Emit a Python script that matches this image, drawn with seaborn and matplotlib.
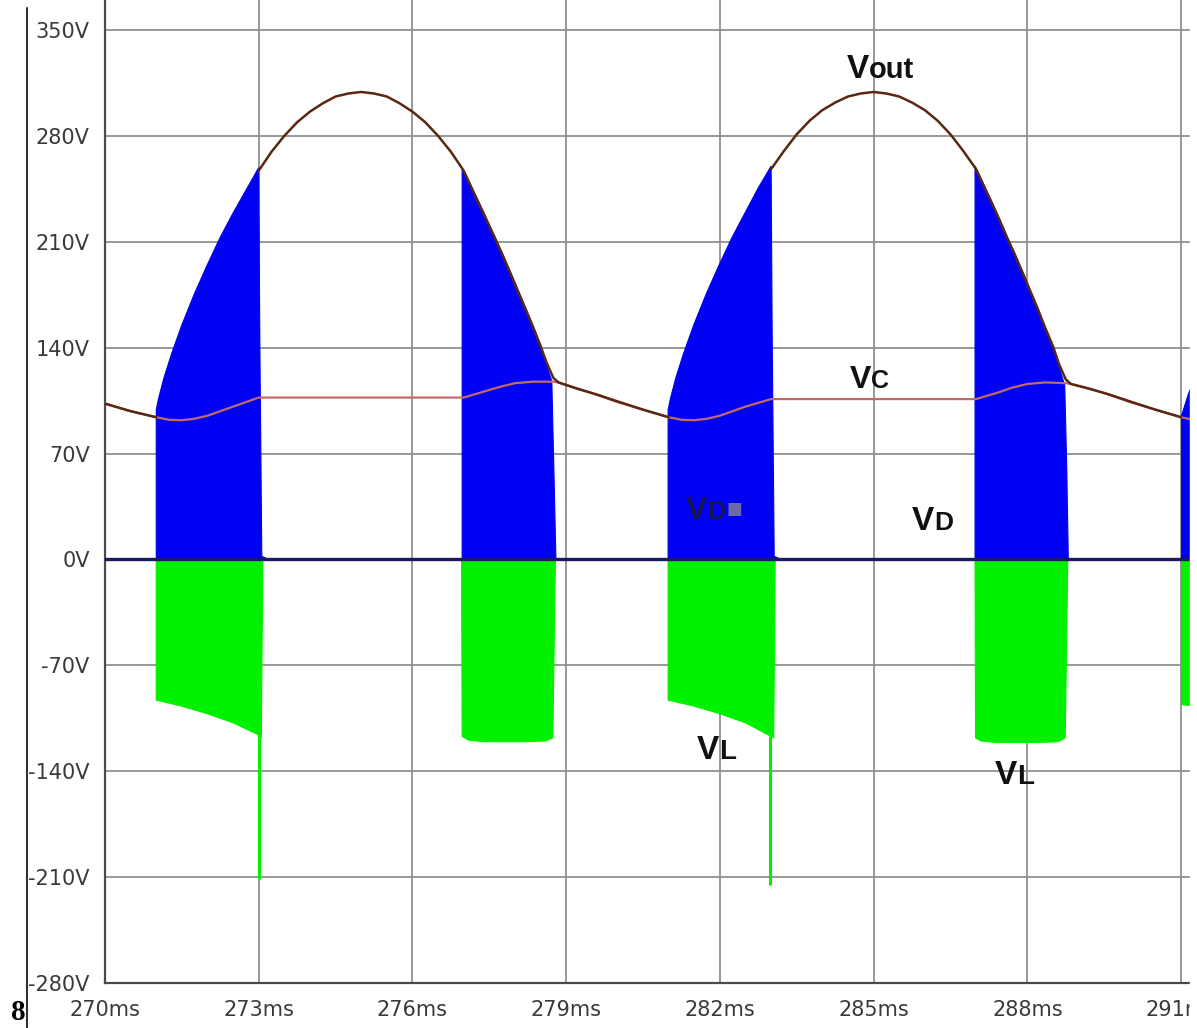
import matplotlib
matplotlib.use("Agg")
import matplotlib.pyplot as plt
from matplotlib.lines import Line2D
from matplotlib.patches import Rectangle
import seaborn as sns

# ---------------- data ----------------
x_ticks = [270, 273, 276, 279, 282, 285, 288, 291]
x_labels = [f"{v}ms" for v in x_ticks]
y_ticks = [-280, -210, -140, -70, 0, 70, 140, 210, 280, 350]
y_labels = [f"{v}V" for v in y_ticks]

# Vout (visible parts of the brown curve)
vout_t1 = [270.0, 270.5, 271.0]
vout_v1 = [103, 98, 94]
vout_t2 = [273.0, 273.25, 273.5, 273.75, 274.0, 274.25, 274.5, 274.75, 275.0,
           275.25, 275.5, 275.75, 276.0, 276.25, 276.5, 276.75, 277.0,
           277.15, 277.3, 277.45, 277.6, 277.75, 277.9, 278.05, 278.2, 278.35,
           278.5, 278.62, 278.75, 278.85, 279.2, 279.6, 280.0, 280.5, 281.0]
vout_v2 = [257, 269.5, 280, 289, 296, 301.5, 306, 308, 309,
           308, 306, 301.5, 296, 289, 280, 269.5, 257,
           246, 235, 224, 213, 202, 190, 178, 166, 154,
           141, 130, 120, 117, 113, 109, 104.5, 99, 94]
vout_t3 = [283.0, 283.25, 283.5, 283.75, 284.0, 284.25, 284.5, 284.75, 285.0,
           285.25, 285.5, 285.75, 286.0, 286.25, 286.5, 286.75, 287.0,
           287.15, 287.3, 287.45, 287.6, 287.75, 287.9, 288.05, 288.2, 288.35,
           288.5, 288.62, 288.75, 288.85, 289.2, 289.6, 290.0, 290.5, 291.0]
vout_v3 = [258, 270, 281, 290, 297, 302, 306, 308, 309,
           308, 306, 302, 297, 290, 281, 270, 258,
           247, 236, 225, 213, 202, 190, 178, 166, 153,
           141, 129, 119, 116, 113, 109, 104.5, 99, 94]

# Vc
vc_t = [270.0, 270.5, 271.0, 271.25, 271.5, 271.75, 272.0, 272.25, 272.5, 272.75, 273.0,
        277.0, 277.2, 277.4, 277.7, 278.0, 278.35, 278.75, 278.85, 279.5, 280.0, 280.5,
        281.0, 281.25, 281.5, 281.75, 282.0, 282.25, 282.5, 282.75, 283.0,
        287.0, 287.2, 287.4, 287.7, 288.0, 288.35, 288.75, 288.85, 289.5, 290.0, 290.5,
        291.0, 291.2]
vc_v = [103, 98, 94, 92.3, 92, 93, 95, 98, 101, 104, 107,
        107, 109, 111, 114, 116.5, 117.5, 117.5, 117, 110, 104, 99,
        94, 92.3, 92, 93, 95, 98, 101, 103.5, 106,
        106, 108, 110, 113.5, 116, 117, 116.5, 116, 110, 104, 99,
        94, 92.5]

# VD envelope (blue bursts)
vd_t1 = [271.0, 271.0, 271.05, 271.15, 271.3, 271.5, 271.75, 272.0, 272.25, 272.5,
         272.75, 273.0, 273.02, 273.06, 273.2]
vd_v1 = [0, 99, 107, 120, 136, 155, 176, 195, 213, 229,
         244, 259, 150, 2, 0]
vd_t2 = [276.97, 276.97, 277.3, 277.6, 277.9, 278.2, 278.5, 278.65, 278.72, 278.76, 278.8]
vd_v2 = [0, 258, 236, 214, 191, 167, 142, 125, 118, 60, 0]
vd_t3 = [280.99, 280.99, 281.04, 281.14, 281.29, 281.49, 281.74, 281.99, 282.24, 282.49,
         282.74, 283.0, 283.02, 283.06, 283.2]
vd_v3 = [0, 99, 107, 120, 136, 155, 176, 195, 213, 229,
         245, 260, 150, 2, 0]
vd_t4 = [286.98, 286.98, 287.3, 287.6, 287.9, 288.2, 288.5, 288.65, 288.73, 288.77, 288.8]
vd_v4 = [0, 260, 237, 214, 191, 166, 141, 124, 115, 60, 0]
vd_t5 = [291.01, 291.01, 291.15, 291.3, 291.3]
vd_v5 = [0, 95, 110, 122, 0]

# VL envelope (green bursts)
vl_t1 = [271.0, 271.0, 271.5, 272.0, 272.5, 273.0, 273.05, 273.08]
vl_v1 = [0, -93, -97, -102, -108, -116, -118, 0]
vl_t2 = [276.96, 276.97, 277.1, 277.4, 278.2, 278.6, 278.74, 278.79]
vl_v2 = [0, -117, -119.5, -120.5, -120.5, -120, -118, 0]
vl_t3 = [280.99, 280.99, 281.5, 282.0, 282.5, 283.0, 283.05, 283.08]
vl_v3 = [0, -93, -97, -102, -108, -117, -118, 0]
vl_t4 = [286.98, 286.99, 287.1, 287.4, 288.2, 288.6, 288.74, 288.79]
vl_v4 = [0, -118, -120, -121, -121, -120.5, -118, 0]
vl_t5 = [291.01, 291.01, 291.3, 291.3]
vl_v5 = [0, -96, -97, 0]

# VL negative spikes
spike_t = [273.0, 282.98]
spike_lo = [-211, -215]
spike_hi = [-116, -117]

# ---------------- styling ----------------
sns.set_style("white")
plt.rcParams['font.family'] = ['DejaVu Sans']

W, H = 1197, 1028
fig = plt.figure(figsize=(W / 100, H / 100), dpi=100)
fig.patch.set_facecolor("white")
ax = fig.add_axes([105 / W, 45 / H, (1190 - 105) / W, (H - 45) / H])
ax.set_xlim(270, 291.175)
ax.set_ylim(-280, 369.8)

BLUE = "#0000f4"
GREEN = "#00f000"
VOUT_C = "#5a2812"
VC_C = "#c06a6a"
NAVY = "#1a1a5c"

ax.set_xticks(x_ticks)
ax.set_xticklabels(x_labels)
ax.set_yticks(y_ticks)
ax.set_yticklabels(y_labels)
ax.grid(True, color="#909090", lw=1.3, zorder=0)
ax.set_axisbelow(True)
for s in ["top", "right"]:
    ax.spines[s].set_visible(False)
for s in ["left", "bottom"]:
    ax.spines[s].set_color("#4a4a4a")
    ax.spines[s].set_linewidth(1.6)
ax.tick_params(axis="y", length=10, width=1.2, color="#606060", pad=1,
               labelsize=15, labelcolor="#3a3a3a")
ax.tick_params(axis="x", length=9, width=1.2, color="#606060", pad=3,
               labelsize=15, labelcolor="#3a3a3a")

# filled switching envelopes
for t, v in [(vd_t1, vd_v1), (vd_t2, vd_v2), (vd_t3, vd_v3), (vd_t4, vd_v4), (vd_t5, vd_v5)]:
    ax.fill(t, v, color=BLUE, lw=0.8, zorder=2)
for t, v in [(vl_t1, vl_v1), (vl_t2, vl_v2), (vl_t3, vl_v3), (vl_t4, vl_v4), (vl_t5, vl_v5)]:
    ax.fill(t, v, color=GREEN, lw=0.8, zorder=2)
ax.vlines(spike_t, spike_lo, spike_hi, color=GREEN, lw=2.2, zorder=2)

# zero line
ax.axhline(0, color=NAVY, lw=2.4, zorder=3)

# Vc and Vout lines
sns.lineplot(x=vc_t, y=vc_v, ax=ax, color=VC_C, lw=1.6, sort=False,
             estimator=None, zorder=4)
for t, v in [(vout_t1, vout_v1), (vout_t2, vout_v2), (vout_t3, vout_v3)]:
    sns.lineplot(x=t, y=v, ax=ax, color=VOUT_C, lw=1.8, sort=False,
                 estimator=None, zorder=5)
ax.set_xlabel("")
ax.set_ylabel("")


def label(x, y, main, sub, sm, ss, gap, color="#111111"):
    ax.text(x, y, main, fontsize=sm, fontweight="bold", family="Liberation Sans",
            color=color, va="baseline", ha="left", zorder=6)
    ax.annotate(sub, xy=(x, y), xytext=(gap, 0), textcoords="offset points",
                fontsize=ss, fontweight="bold", family="Liberation Sans",
                color=color, va="baseline", ha="left", zorder=6)


label(284.48, 318.5, "V", "out", 24, 21, 15.5)
label(284.54, 113.5, "V", "C", 23, 18, 15.3)
label(281.34, 27, "V", "D", 23, 18, 15.3, color="#141450")
ax.text(282.12, 30, "■", fontsize=12, color="#6a6aa8", va="baseline", ha="left",
        family="DejaVu Sans", zorder=6)
label(285.75, 19.5, "V", "D", 24, 19, 16)
label(281.55, -132, "V", "L", 24, 20, 16)
label(287.37, -148.5, "V", "L", 24, 20, 16)

# outer frame line and stray "8"
fig.add_artist(Line2D([27 / W, 27 / W], [0, 1 - 8 / H], transform=fig.transFigure,
                      color="#333333", lw=1.5))
fig.text(11 / W, 8 / H, "8", fontsize=21, family="Liberation Serif",
         fontweight="bold", color="black", va="baseline", ha="left")
# white margin on the right where the screenshot was cut
fig.add_artist(Rectangle((1190 / W, 0), 7 / W, 1, transform=fig.transFigure,
                         color="white", zorder=10))

fig.savefig("out.png", dpi=100, facecolor="white")
